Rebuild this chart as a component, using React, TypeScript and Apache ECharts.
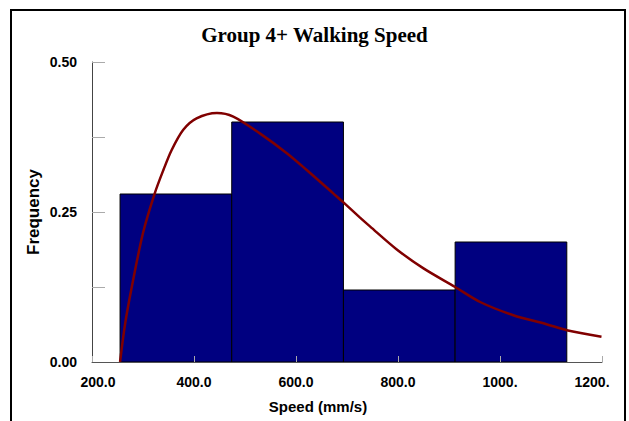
import React, { useEffect, useRef } from "react";
import * as echarts from "echarts";

const title = "Group 4+ Walking Speed";
const xTitle = "Speed (mm/s)";
const yTitle = "Frequency";

// histogram bins: [start, end, frequency]
const binEdges = [255, 474, 693, 912, 1131];
const binFreq = [0.28, 0.4, 0.12, 0.2];

// fitted density curve points [speed, frequency]
const curveX = [255, 265, 278, 300, 323, 340, 356, 379, 405, 445, 477, 529, 582, 621, 673, 693, 725, 745, 797, 850, 912, 961, 1026, 1091, 1131, 1199];
const curveY = [0, 0.064, 0.125, 0.215, 0.281, 0.32, 0.353, 0.387, 0.406, 0.415, 0.409, 0.381, 0.348, 0.32, 0.281, 0.266, 0.241, 0.226, 0.188, 0.156, 0.125, 0.1, 0.078, 0.063, 0.053, 0.042];

const xTickValues = [200, 400, 600, 800, 1000, 1200];
const xTickLabels = ["200.0", "400.0", "600.0", "800.0", "1000.", "1200."];

export default function App() {
  const ref = useRef<HTMLDivElement>(null);
  useEffect(() => {
    if (!ref.current) return;
    const chart = echarts.init(ref.current, null, { renderer: "svg" });
    const bars = binFreq.map((f, i) => [binEdges[i], binEdges[i + 1], f]);
    const curve = curveX.map((x, i) => [x, curveY[i]]);
    const sans = "'Liberation Sans', Arial, sans-serif";
    chart.setOption({
      animation: false,
      backgroundColor: "#ffffff",
      title: {
        text: title,
        left: "center",
        top: 19,
        textStyle: { fontFamily: "'Liberation Serif', 'Times New Roman', serif", fontWeight: "bold", fontSize: 21, color: "#000" },
      },
      grid: { left: 92, top: 62, width: 510, height: 300, containLabel: false },
      xAxis: {
        type: "value",
        min: 200,
        max: 1200,
        interval: 200,
        z: 10,
        axisLine: { lineStyle: { color: "#555", width: 1 } },
        axisTick: { inside: true, length: 6, lineStyle: { color: "#aaa" } },
        splitLine: { show: false },
        axisLabel: {
          margin: 13,
          fontFamily: sans,
          fontWeight: "bold",
          fontSize: 14,
          color: "#000",
          showMinLabel: true,
          showMaxLabel: true,
          formatter: (v: number) => {
            const i = xTickValues.indexOf(Math.round(v));
            if (i < 0) return "";
            if (i === 0) return "{l|" + xTickLabels[i] + "}";
            if (i === xTickValues.length - 1) return "{r|" + xTickLabels[i] + "}";
            return xTickLabels[i];
          },
          rich: {
            l: { fontFamily: sans, fontWeight: "bold", fontSize: 14, color: "#000", padding: [0, 0, 0, 12] },
            r: { fontFamily: sans, fontWeight: "bold", fontSize: 14, color: "#000", padding: [0, 20, 0, 0] },
          },
        },
      },
      yAxis: {
        type: "value",
        min: 0,
        max: 0.5,
        interval: 0.125,
        name: yTitle,
        nameLocation: "middle",
        nameGap: 50,
        nameMoveOverlap: false,
        nameRotate: 90,
        nameTextStyle: { fontFamily: sans, fontWeight: "bold", fontSize: 17, color: "#000" },
        axisLine: { show: true, lineStyle: { color: "#444", width: 1 } },
        axisTick: { show: true, inside: true, length: 13, lineStyle: { color: "#aaa" } },
        splitLine: { show: false },
        axisLabel: {
          margin: 15,
          fontFamily: sans,
          fontWeight: "bold",
          fontSize: 14,
          color: "#000",
          formatter: (v: number) => {
            const k = v / 0.25;
            return Math.abs(k - Math.round(k)) < 1e-6 ? v.toFixed(2) : "";
          },
        },
      },
      graphic: [
        {
          type: "rect",
          shape: { x: 11, y: 10, width: 614, height: 430 },
          style: { fill: "none", stroke: "#000", lineWidth: 2 },
          z: 100,
          silent: true,
        },
        {
          type: "text",
          x: 318,
          y: 406,
          style: {
            text: xTitle,
            fontFamily: sans,
            fontWeight: "bold",
            fontSize: 15,
            fill: "#000",
            textAlign: "center",
            textVerticalAlign: "middle",
          },
        },
      ],
      series: [
        {
          type: "custom",
          z: 2,
          data: bars,
          encode: { x: [0, 1], y: 2 },
          renderItem: (params: any, api: any) => {
            const p0 = api.coord([api.value(0), api.value(2)]);
            const p1 = api.coord([api.value(1), 0]);
            return {
              type: "rect",
              shape: { x: p0[0], y: p0[1], width: p1[0] - p0[0], height: p1[1] - p0[1] },
              style: { fill: "#000080", stroke: "#000", lineWidth: 1 },
            };
          },
        },
        {
          type: "line",
          z: 5,
          data: curve,
          smooth: 0.3,
          showSymbol: false,
          symbol: "none",
          lineStyle: { color: "#800000", width: 2.5 },
        },
      ],
    });
    return () => chart.dispose();
  }, []);
  return (
    <div
      ref={ref}
      style={{ position: "fixed", left: 0, top: 0, width: 629, height: 421, background: "#fff" }}
    />
  );
}
